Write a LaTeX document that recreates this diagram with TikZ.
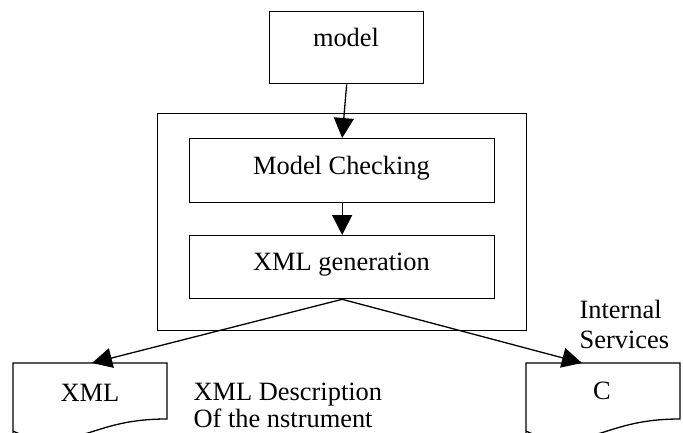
\documentclass[tikz,border=0pt]{standalone}
\usepackage{fontspec}
\setmainfont{Liberation Serif}
\usetikzlibrary{arrows.meta}
\begin{document}
\begin{tikzpicture}[x=1pt,y=-1pt,line width=1.3pt,
  box/.style={draw,rectangle,inner sep=0pt,anchor=north west},
  txt/.style={font=\fontsize{26.4}{30}\selectfont,inner sep=0pt,anchor=base},
  ltxt/.style={txt,anchor=base west},
  arr/.style={-{Triangle[length=20pt,width=20pt]},line width=1.3pt}]
\useasboundingbox (0,0) rectangle (683,432);
\clip (0,0) rectangle (683,432);
% boxes
\node[box,minimum width=154pt,minimum height=72pt] (model) at (269,11) {};
\node[box,minimum width=369pt,minimum height=217pt] (outer) at (157,113) {};
\node[box,minimum width=305pt,minimum height=64pt] (mc) at (189,138) {};
\node[box,minimum width=305pt,minimum height=63pt] (xg) at (189,235) {};
% texts
\node[txt] (tmodel) at (346,46) {model};
\node[txt] (tmc) at (341.5,174) {Model Checking};
\node[txt] (txg) at (341.5,270) {XML generation};
% documents
\draw (13,440) -- (13,363) -- (167,363) -- (167,419)
  .. controls (130,419) and (110,426) .. (88,433)
  .. controls (60,441) and (30,440) .. (13,431);
\draw (526,440) -- (526,363) -- (680,363) -- (680,419)
  .. controls (643,419) and (623,426) .. (601,433)
  .. controls (573,441) and (543,440) .. (526,431);
\coordinate (xmltop) at (92,363);
\coordinate (ctop) at (582,363);
\node[txt] (txml) at (90,401) {XML};
\node[txt] (tc) at (602,399) {C};
\node[ltxt] (d1) at (193,400) {XML Description};
\node[ltxt] (d2) at (193,427) {Of the nstrument};
\node[ltxt] (i1) at (579,318) {Internal};
\node[ltxt] (i2) at (579,348) {Services};
% connectors
\draw[arr] (model.south) -- (mc.north);
\draw[arr] (mc.south) -- (xg.north);
\draw[arr] (xg.south) -- (xmltop);
\draw[arr] (xg.south) -- (ctop);
\end{tikzpicture}
\end{document}
